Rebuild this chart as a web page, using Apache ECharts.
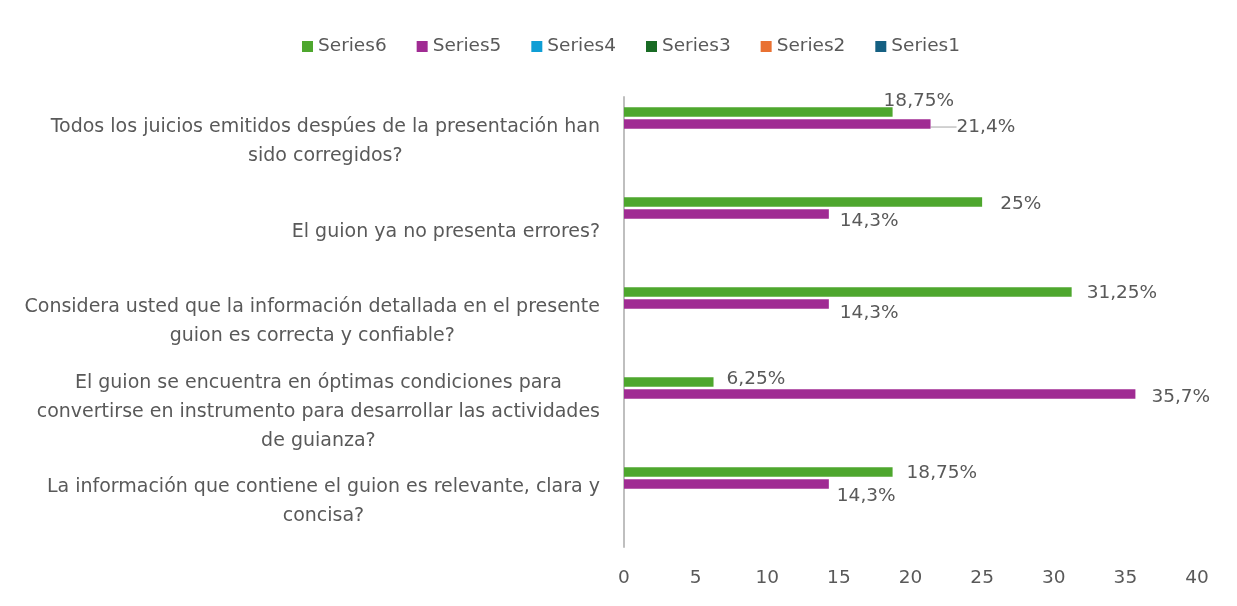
<!DOCTYPE html>
<html>
<head>
<meta charset="utf-8">
<script src="https://cdn.jsdelivr.net/npm/echarts@6/dist/echarts.min.js"></script>
<style>
  html, body { margin: 0; padding: 0; background: #fff; }
  #main { width: 1237px; height: 606px; }
</style>
</head>
<body>
<div id="main"></div>
<script>
// preguntas (eje de categorias, de arriba hacia abajo)
var categories = [
    'Todos los juicios emitidos despúes de la presentación han\nsido corregidos?',
    'El guion ya no presenta errores?',
    'Considera usted que la información detallada en el presente\nguion es correcta y confiable?',
    'El guion se encuentra en óptimas condiciones para\nconvertirse en instrumento para desarrollar las actividades\nde guianza?',
    'La información que contiene el guion es relevante, clara y\nconcisa?'
];
var series6 = [18.75, 25, 31.25, 6.25, 18.75];
var series5 = [21.4, 14.3, 14.3, 35.7, 14.3];
var series4 = [];
var series3 = [];
var series2 = [];
var series1 = [];
var labels6 = ['18,75%', '25%', '31,25%', '6,25%', '18,75%'];
var labels5 = ['21,4%', '14,3%', '14,3%', '35,7%', '14,3%'];
var xTicks = [0, 5, 10, 15, 20, 25, 30, 35, 40];

// desplazamiento manual de etiquetas (como en el grafico original)
var shift6 = [[-14, -11], [13, 2], [10, 1], [8, -3], [9, 1]];
var shift5 = [[21, 3], [6, 7], [6, 9], [11, 3], [3, 12]];

var myChart = echarts.init(document.getElementById('main'));
var txt = '#595959';
var fnt = 'DejaVu Sans';

function barSerie(name, values, color, texts, shifts) {
    var s = {
        name: name,
        type: 'bar',
        barWidth: 9.5,
        barGap: '26%',
        itemStyle: { color: color },
        data: values.map(function (v, i) {
            var item = { value: v };
            if (name === 'Series5' && i === 0) {
                item.labelLine = { show: true, lineStyle: { color: '#a6a6a6', width: 1 } };
            }
            return item;
        })
    };
    if (texts) {
        s.label = {
            show: true,
            position: 'right',
            distance: 5,
            color: txt,
            fontFamily: fnt,
            fontSize: 18.5,
            formatter: function (p) { return texts[p.dataIndex]; }
        };
        s.labelLayout = function (p) {
            var d = shifts[p.dataIndex];
            return { dx: d[0], dy: d[1] };
        };
    }
    return s;
}

var option = {
    animation: false,
    textStyle: { fontFamily: fnt },
    legend: {
        top: 32,
        left: 297,
        icon: 'rect',
        itemWidth: 11,
        itemHeight: 11,
        itemGap: 30,
        textStyle: { color: txt, fontSize: 18.5, fontFamily: fnt },
        data: ['Series6', 'Series5', 'Series4', 'Series3', 'Series2', 'Series1']
    },
    grid: { left: 624, right: 40, top: 97, bottom: 59 },
    xAxis: {
        type: 'value',
        min: 0,
        max: 40,
        interval: 5,
        axisLine: { show: false },
        axisTick: { show: false },
        splitLine: { show: false },
        axisLabel: {
            color: txt, fontSize: 18.5, margin: 22, fontFamily: fnt,
            formatter: function (v) { return xTicks.indexOf(v) >= 0 ? String(v) : ''; }
        }
    },
    yAxis: {
        type: 'category',
        inverse: true,
        data: categories,
        axisLine: { show: true, lineStyle: { color: '#bfbfbf', width: 2 } },
        axisTick: { show: false },
        axisLabel: {
            margin: 24,
            align: 'right',
            color: txt,
            fontSize: 19,
            lineHeight: 29,
            formatter: function (v) {
                return v.split('\n').map(function (l) { return '{c|' + l + '}'; }).join('\n');
            },
            rich: {
                c: { align: 'center', color: txt, fontSize: 19, lineHeight: 29, fontFamily: fnt }
            }
        }
    },
    series: [
        barSerie('Series6', series6, '#4ea72e', labels6, shift6),
        barSerie('Series5', series5, '#a02b93', labels5, shift5),
        barSerie('Series4', series4, '#0f9ed5'),
        barSerie('Series3', series3, '#196b24'),
        barSerie('Series2', series2, '#e97132'),
        barSerie('Series1', series1, '#156082')
    ]
};
myChart.setOption(option);
</script>
</body>
</html>
